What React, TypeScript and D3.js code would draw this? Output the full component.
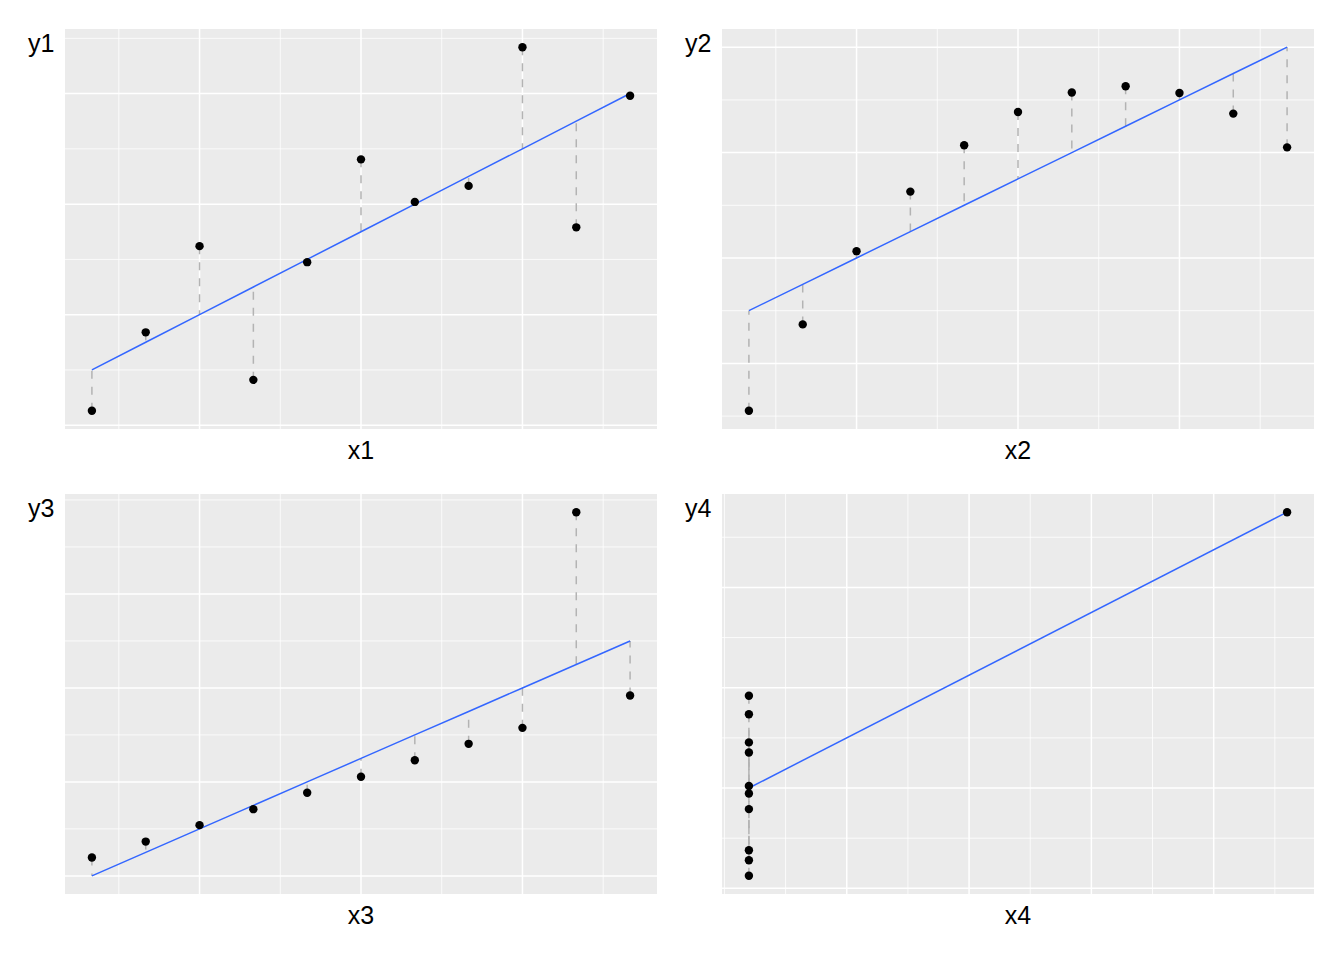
import React from "react";
import * as d3 from "d3";

const x123 = [10, 8, 13, 9, 11, 14, 6, 4, 12, 7, 5];
const x4 = [8, 8, 8, 8, 8, 8, 8, 19, 8, 8, 8];
const y1 = [8.04, 6.95, 7.58, 8.81, 8.33, 9.96, 7.24, 4.26, 10.84, 4.82, 5.68];
const y2 = [9.14, 8.14, 8.74, 8.77, 9.26, 8.1, 6.13, 3.1, 9.13, 7.26, 4.74];
const y3 = [7.46, 6.77, 12.74, 7.11, 7.81, 8.84, 6.08, 5.39, 8.15, 6.42, 5.73];
const y4 = [6.58, 5.76, 7.71, 8.84, 8.47, 7.04, 5.25, 12.5, 5.56, 7.91, 6.89];

const xMajor123 = [6, 9, 12];
const xMinor123 = [4.5, 7.5, 10.5, 13.5];
const xMajor4 = [10, 12.5, 15, 17.5];
const xMinor4 = [7.5, 8.75, 11.25, 13.75, 16.25, 18.75];

const panelsDef = [
  { xs: x123, ys: y1, xl: "x1", yl: "y1", xMaj: xMajor123, xMin: xMinor123, yMaj: [4, 6, 8, 10], yMin: [5, 7, 9, 11] },
  { xs: x123, ys: y2, xl: "x2", yl: "y2", xMaj: xMajor123, xMin: xMinor123, yMaj: [4, 6, 8, 10], yMin: [3, 5, 7, 9] },
  { xs: x123, ys: y3, xl: "x3", yl: "y3", xMaj: xMajor123, xMin: xMinor123, yMaj: [5, 7, 9, 11], yMin: [6, 8, 10, 12, 13] },
  { xs: x4, ys: y4, xl: "x4", yl: "y4", xMaj: xMajor4, xMin: xMinor4, yMaj: [5, 7, 9, 11], yMin: [6, 8, 10, 12] },
];

const PW = 592;
const PH = 400;
const lefts = [65, 722];
const tops = [29, 494];
const FONT = "'Liberation Sans', Arial, sans-serif";

function fit(xs: number[], ys: number[]) {
  const mx = d3.mean(xs)!;
  const my = d3.mean(ys)!;
  let sxy = 0, sxx = 0;
  xs.forEach((x, i) => { sxy += (x - mx) * (ys[i] - my); sxx += (x - mx) ** 2; });
  const b = sxy / sxx;
  const a = my - b * mx;
  return (x: number) => a + b * x;
}

function Panel({ def, left, top }: any) {
  const { xs, ys, xl, yl, xMaj, xMin, yMaj, yMin } = def;
  const f = fit(xs, ys);
  const fitted = xs.map((x: number) => f(x));
  const xExt = d3.extent(xs) as [number, number];
  const yExt = d3.extent([...ys, ...fitted]) as [number, number];
  const xp = (xExt[1] - xExt[0]) * 0.05;
  const yp = (yExt[1] - yExt[0]) * 0.05;
  const x = d3.scaleLinear().domain([xExt[0] - xp, xExt[1] + xp]).range([0, PW]);
  const y = d3.scaleLinear().domain([yExt[0] - yp, yExt[1] + yp]).range([PH, 0]);
  const order = d3.range(xs.length).sort((a, b) => xs[a] - xs[b]);
  const lineGen = d3.line<number>().x((i) => x(xs[i])).y((i) => y(fitted[i]));
  return (
    <g>
      <g transform={`translate(${left},${top})`}>
        <rect width={PW} height={PH} fill="#EBEBEB" />
        {yMin.map((v: number) => (
          <line key={"ym" + v} x1={0} x2={PW} y1={y(v)} y2={y(v)} stroke="#fff" strokeWidth={0.8} />
        ))}
        {xMin.map((v: number) => (
          <line key={"xm" + v} x1={x(v)} x2={x(v)} y1={0} y2={PH} stroke="#fff" strokeWidth={0.8} />
        ))}
        {yMaj.map((v: number) => (
          <line key={"yM" + v} x1={0} x2={PW} y1={y(v)} y2={y(v)} stroke="#fff" strokeWidth={1.5} />
        ))}
        {xMaj.map((v: number) => (
          <line key={"xM" + v} x1={x(v)} x2={x(v)} y1={0} y2={PH} stroke="#fff" strokeWidth={1.5} />
        ))}
        {xs.map((xv: number, i: number) => (
          <line key={"s" + i} x1={x(xv)} x2={x(xv)} y1={y(ys[i])} y2={y(fitted[i])}
            stroke="#B3B3B3" strokeWidth={1.5} strokeDasharray="8,8" />
        ))}
        <path d={lineGen(order) || ""} fill="none" stroke="#3366FF" strokeWidth={1.5} />
        {xs.map((xv: number, i: number) => (
          <circle key={"p" + i} cx={x(xv)} cy={y(ys[i])} r={4.2} fill="#000" />
        ))}
      </g>
      <text x={left - 37} y={top + 23} fontFamily={FONT} fontSize={25} fill="#000">{yl}</text>
      <text x={left + PW / 2} y={top + PH + 30} fontFamily={FONT} fontSize={25} fill="#000" textAnchor="middle">{xl}</text>
    </g>
  );
}

export default function App() {
  return (
    <svg width={1344} height={960} style={{ position: "absolute", left: 0, top: 0, background: "#fff" }}>
      <rect width={1344} height={960} fill="#fff" />
      {panelsDef.map((def, i) => (
        <Panel key={i} def={def} left={lefts[i % 2]} top={tops[Math.floor(i / 2)]} />
      ))}
    </svg>
  );
}
